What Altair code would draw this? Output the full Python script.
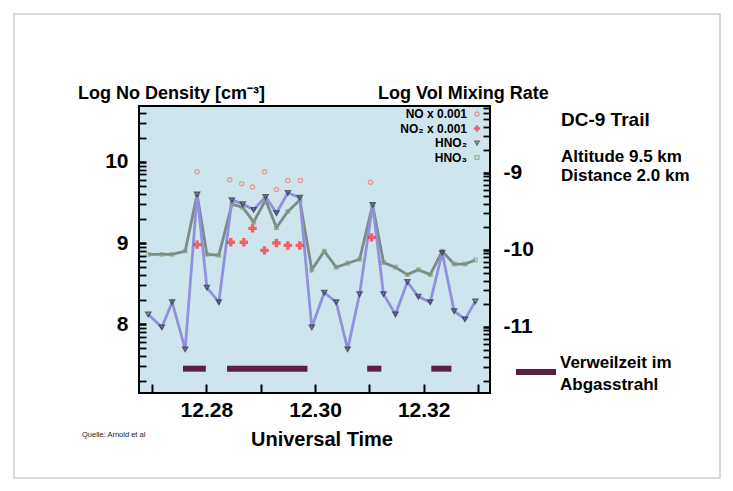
import altair as alt
import pandas as pd
import numpy as np

F = "Liberation Sans"

# ---- data (UT decimal hours, log values on left scale) ----
t_grid = [12.2693, 12.2718, 12.2737, 12.2761, 12.2783, 12.2801, 12.2823, 12.2847, 12.2867, 12.2887,
          12.2909, 12.2929, 12.2950, 12.2972, 12.2994, 12.3017, 12.3039, 12.3060, 12.3082, 12.3106,
          12.3126, 12.3148, 12.3170, 12.3190, 12.3212, 12.3234, 12.3256, 12.3276, 12.3295]
hno2 = [8.12, 7.96, 8.27, 7.69, 9.60, 8.45, 8.27, 9.53, 9.48, 9.41,
        9.57, 9.37, 9.62, 9.56, 7.96, 8.39, 8.27, 7.69, 8.37, 9.47,
        8.37, 8.12, 8.52, 8.34, 8.27, 8.88, 8.16, 8.06, 8.28]
hno3 = [8.86, 8.86, 8.86, 8.90, 9.60, 8.86, 8.85, 9.48, 9.44, 9.26,
        9.53, 9.19, 9.39, 9.53, 8.67, 8.90, 8.70, 8.75, 8.80, 9.47,
        8.76, 8.70, 8.61, 8.67, 8.61, 8.90, 8.74, 8.74, 8.79]
no_t = [12.2783, 12.2843, 12.2865, 12.2885, 12.2907, 12.2929, 12.2950, 12.2973, 12.3102]
no_v = [9.88, 9.78, 9.73, 9.69, 9.88, 9.66, 9.77, 9.77, 9.75]
no2_t = [12.2783, 12.2845, 12.2869, 12.2885, 12.2907, 12.2929, 12.2950, 12.2972, 12.3104]
no2_v = [8.98, 9.01, 9.01, 9.18, 8.91, 9.00, 8.97, 8.97, 9.07]
stay_start = [12.2757, 12.2838, 12.3096, 12.3214]
stay_end = [12.2799, 12.2986, 12.3122, 12.3251]
stay_level = [7.45, 7.45, 7.45, 7.45]

x_ticks = [12.27, 12.28, 12.29, 12.30, 12.31, 12.32, 12.33]

# ---- scales / axes ----
XD = [12.2676, 12.3322]
YL = [7.15, 10.69]
YR = [-11.86, -8.13]
left_ticks = [round(float(d + np.log10(k)), 5) for d in (7, 8, 9, 10) for k in range(1, 10)
              if YL[0] <= d + np.log10(k) <= YL[1]]
right_ticks = [round(float(d + np.log10(k)), 5) for d in (-12, -11, -10, -9) for k in range(1, 10)
               if YR[0] <= d + np.log10(k) <= YR[1]]

is_int = "abs(datum.value - round(datum.value)) < 0.001"
int_label = f"{is_int} ? ('' + round(datum.value)) : ''"
xs = alt.Scale(domain=XD, nice=False, zero=False)
ys = alt.Scale(domain=YL, nice=False, zero=False)

x_axis = alt.Axis(values=x_ticks, title=None, grid=False, domain=False,
                  labelExpr="(abs(datum.value-12.28)<1e-6 || abs(datum.value-12.30)<1e-6 || abs(datum.value-12.32)<1e-6) ? format(datum.value,'.2f') : ''",
                  tickSize=9, offset=-9, tickColor="black", tickWidth=2,
                  labelFont=F, labelFontSize=21, labelFontWeight="bold", labelColor="black",
                  labelPadding=6, labelFlush=False, labelOverlap=False)
yl_axis = alt.Axis(values=left_ticks, title=None, grid=False, domain=False,
                   labelExpr=int_label,
                   tickSize=7, offset=-7, tickColor="black",
                   tickWidth={"condition": {"test": is_int, "value": 2.5}, "value": 1.8},
                   labelFont=F, labelFontSize=21, labelFontWeight="bold", labelColor="black",
                   labelPadding=11, labelOverlap=False, labelFlush=False, labelBound=False)
yr_axis = alt.Axis(values=right_ticks, title=None, grid=False, domain=False, orient="right",
                   labelExpr=int_label,
                   tickSize=7, offset=-7, tickColor="black",
                   tickWidth={"condition": {"test": is_int, "value": 2.5}, "value": 1.8},
                   labelFont=F, labelFontSize=21, labelFontWeight="bold", labelColor="black",
                   labelPadding=13, labelOverlap=False, labelFlush=False, labelBound=False)

grid_df = pd.DataFrame({"t": t_grid, "hno2": hno2, "hno3": hno3})
no_df = pd.DataFrame({"t": no_t, "v": no_v})
no2_df = pd.DataFrame({"t": no2_t, "v": no2_v})
stay_df = pd.DataFrame({"t0": stay_start, "t1": stay_end, "y": stay_level})


def X(f):
    return alt.X(f, scale=xs, axis=x_axis)


def Y(f):
    return alt.Y(f, scale=ys, axis=yl_axis)


base = alt.Chart(grid_df)
hno3_line = base.mark_line(color="#7c8a88", strokeWidth=2.8).encode(x=X("t:Q"), y=Y("hno3:Q"))
hno3_pts = base.mark_point(shape="square", filled=False, color="#8da07e", size=14, strokeWidth=1.2).encode(
    x=X("t:Q"), y=Y("hno3:Q"))
hno2_line = base.mark_line(color="#9090dc", strokeWidth=2.8).encode(x=X("t:Q"), y=Y("hno2:Q"))
hno2_pts = base.mark_point(shape="triangle-down", filled=False, color="#2b2b3a", size=22, strokeWidth=1.6).encode(
    x=X("t:Q"), y=Y("hno2:Q"))
no_pts = alt.Chart(no_df).mark_point(shape="circle", filled=False, color="#f07a70", size=18, strokeWidth=1.3).encode(
    x=X("t:Q"), y=Y("v:Q"))
no2_pts = alt.Chart(no2_df).mark_point(shape="cross", filled=True, color="#ff2a2a", size=70).encode(
    x=X("t:Q"), y=Y("v:Q"))
stay = alt.Chart(stay_df).mark_rule(color="#5a2040", strokeWidth=6).encode(
    x=X("t0:Q"), x2="t1:Q", y=Y("y:Q"))

one = pd.DataFrame({"a": [0]})


def txt(s, x, y, size, weight="bold", align="left", color="black"):
    return alt.Chart(one).mark_text(text=s, align=align, baseline="middle", font=F, fontSize=size,
                                    fontWeight=weight, color=color).encode(
        x=alt.value(x), y=alt.value(y))


legend_rows = [("NO x 0.001", "circle", "#f07a70", False, 16),
               ("NO\u2082 x 0.001", "cross", "#ff2a2a", True, 40),
               ("HNO\u2082", "triangle-down", "#2b2b3a", False, 18),
               ("HNO\u2083", "square", "#8da07e", False, 14)]
legend_layers = []
for i, (lab, shp, col, fil, sz) in enumerate(legend_rows):
    yy = 8 + i * 14.5
    legend_layers.append(txt(lab, 328, yy, 12, align="right"))
    legend_layers.append(alt.Chart(one).mark_point(shape=shp, filled=fil, color=col, size=sz, strokeWidth=1.3).encode(
        x=alt.value(338), y=alt.value(yy)))

deco = [
    alt.Chart(one).mark_rect(fillOpacity=0, stroke="#cfcfcf", strokeWidth=1.5).encode(
        x=alt.value(-125), x2=alt.value(581), y=alt.value(-92), y2=alt.value(372)),
    txt("Log No Density [cm\u207b\u00b3]", -61, -12, 18),
    txt("Log Vol Mixing Rate", 239, -12, 18),
    txt("DC-9 Trail", 422, 14, 19),
    txt("Altitude 9.5 km", 422, 51, 17),
    txt("Distance 2.0 km", 422, 70, 17),
    txt("Verweilzeit im", 421, 257, 17),
    txt("Abgasstrahl", 421, 279, 17),
    txt("Universal Time", 183, 334, 20, align="center"),
    txt("Quelle: Arnold et al", -57, 329, 7.5, weight="normal", color="#222222"),
    alt.Chart(one).mark_rule(color="#5a2040", strokeWidth=6).encode(
        x=alt.value(377), x2=alt.value(417), y=alt.value(266)),
]

left = alt.layer(stay, hno3_line, hno2_line, hno3_pts, hno2_pts, no_pts, no2_pts,
                 *legend_layers, *deco)
right = alt.Chart(pd.DataFrame({"v": [-10.0]})).mark_point(opacity=0).encode(
    y=alt.Y("v:Q", scale=alt.Scale(domain=YR, nice=False, zero=False), axis=yr_axis))

chart = alt.layer(left, right).resolve_scale(y="independent").properties(
    width=351, height=287,
    autosize=alt.AutoSizeParams(type="none"),
    padding={"left": 131, "top": 98, "right": 235, "bottom": 90},
    background="white",
).configure_view(fill="#cfe5ee", stroke="black", strokeWidth=2)

chart.save("out.html", embed_options={"renderer": "svg", "actions": False})
